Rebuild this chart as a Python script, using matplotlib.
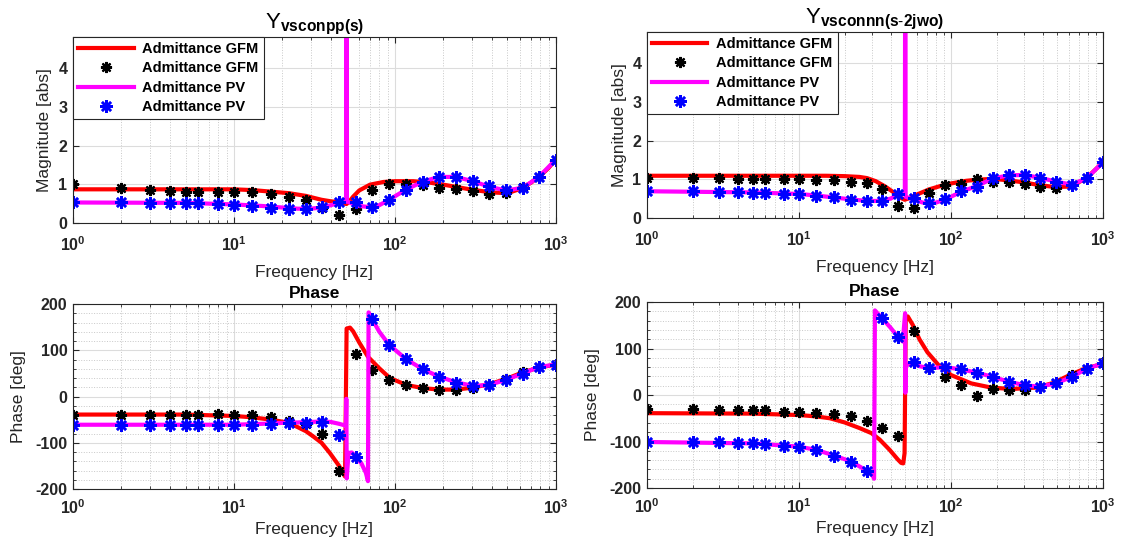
import matplotlib.pyplot as plt
from matplotlib.ticker import LogLocator, NullFormatter, MultipleLocator

plt.rcParams['font.family'] = ['Liberation Sans', 'DejaVu Sans']
plt.rcParams['mathtext.fontset'] = 'custom'
plt.rcParams['mathtext.rm'] = 'Liberation Sans'
plt.rcParams['mathtext.bf'] = 'Liberation Sans:bold'
plt.rcParams['mathtext.it'] = 'Liberation Sans:italic'

# measured frequencies (star markers), Hz
f_meas = [1, 2, 3, 4, 5, 6, 8, 10, 13, 17, 22, 28, 35, 45, 57, 72, 92, 117,
          149, 188, 239, 305, 383, 489, 623, 784, 1000]

# ---- Y_vsconpp(s) magnitude ----
mag_pp_gfm_pts = [1.02, 0.90, 0.85, 0.82, 0.80, 0.79, 0.80, 0.80, 0.79, 0.75, 0.67, 0.60, 0.40,
                  0.21, 0.36, 0.86, 1.02, 1.02, 0.99, 0.91, 0.88, 0.82, 0.76, 0.78, 0.93, 1.20, 1.62]
mag_pp_pv_pts = [0.53, 0.53, 0.52, 0.52, 0.52, 0.52, 0.48, 0.47, 0.43, 0.40, 0.37, 0.36, 0.41,
                 0.54, 0.53, 0.41, 0.60, 0.86, 1.06, 1.19, 1.19, 1.08, 0.95, 0.84, 0.91, 1.19, 1.62]
f_pp_gfm = [1, 5, 10, 13, 17, 22, 28, 35, 40, 45, 48, 50, 52, 55, 60, 70, 85, 100, 130, 160,
            200, 250, 300, 400, 500, 600, 700, 800, 900, 1000]
mag_pp_gfm = [0.87, 0.87, 0.87, 0.85, 0.81, 0.77, 0.70, 0.60, 0.56, 0.54, 0.51, 0.49, 0.55, 0.68,
              0.84, 0.99, 1.06, 1.08, 1.08, 1.05, 0.99, 0.92, 0.86, 0.79, 0.77, 0.88, 1.04, 1.22,
              1.42, 1.64]
f_pp_pv = [1, 5, 10, 15, 20, 25, 30, 35, 40, 45, 49.7, 50, 50.3, 55, 60, 70, 80, 92, 117, 149,
           188, 239, 305, 383, 489, 623, 784, 1000]
mag_pp_pv = [0.53, 0.52, 0.48, 0.44, 0.40, 0.37, 0.37, 0.40, 0.46, 0.52, 0.56, 8.0, 0.56, 0.49,
             0.44, 0.41, 0.46, 0.60, 0.86, 1.07, 1.19, 1.19, 1.08, 0.94, 0.84, 0.91, 1.19, 1.64]

# ---- Y_vsconnn(s-2jwo) magnitude ----
mag_nn_gfm_pts = [1.03, 1.03, 1.03, 1.01, 1.01, 1.01, 1.01, 1.01, 0.98, 0.97, 0.94, 0.90, 0.75,
                  0.32, 0.26, 0.64, 0.84, 0.87, 1.00, 0.94, 0.92, 0.88, 0.81, 0.77, 0.86, 1.03, 1.44]
mag_nn_pv_pts = [0.69, 0.69, 0.67, 0.66, 0.65, 0.64, 0.63, 0.62, 0.57, 0.53, 0.47, 0.43, 0.45,
                 0.63, 0.51, 0.38, 0.48, 0.69, 0.81, 1.03, 1.11, 1.11, 1.03, 0.94, 0.86, 1.03, 1.44]
f_nn_gfm = [1, 5, 10, 15, 20, 25, 28, 32, 37, 42, 46, 49.6, 53, 60, 72, 93, 126, 150, 190, 240,
            300, 380, 480, 610, 780, 1000]
mag_nn_gfm = [1.09, 1.09, 1.09, 1.09, 1.08, 1.06, 1.03, 0.95, 0.81, 0.66, 0.53, 0.47, 0.51, 0.61,
              0.74, 0.87, 0.96, 0.99, 1.01, 0.97, 0.92, 0.85, 0.80, 0.81, 1.03, 1.44]
f_nn_pv = [1, 5, 10, 13, 17, 22, 28, 35, 40, 45, 49.7, 50, 50.3, 57, 65, 72, 80, 92, 117, 149,
           188, 239, 305, 383, 489, 623, 784, 1000]
mag_nn_pv = [0.69, 0.66, 0.62, 0.58, 0.53, 0.48, 0.44, 0.44, 0.50, 0.60, 0.65, 8.0, 0.55, 0.47,
             0.40, 0.37, 0.40, 0.48, 0.68, 0.83, 1.02, 1.10, 1.11, 1.04, 0.94, 0.86, 1.03, 1.44]

# ---- phase, pp ----
ph_pp_gfm_pts = [-39, -41, -41, -40, -39, -39, -38, -39, -41, -45, -53, -59, -82, -161, 93, 57,
                 35, 24, 18, 14, 14, 18, 25, 38, 52, 64, 69]
ph_pp_pv_pts = [-62, -62, -62, -62, -62, -62, -62, -62, -61, -59, -57, -57, -55, -83, -130, 167,
                112, 81, 59, 43, 30, 23, 25, 35, 49, 64, 69]
f_ph_pp_gfm = [1, 5, 10, 13, 17, 22, 28, 31, 35, 39.4, 45, 49, 50.1, 52.6, 55, 60, 68, 80, 93,
               118, 150, 190, 240, 300, 380, 490, 620, 790, 1000]
ph_pp_gfm = [-39, -39, -42, -45, -50, -57, -75, -86, -100, -122, -150, -173, 147, 149, 141, 117,
             86, 61, 40, 25, 18, 15, 15, 19, 26, 38, 52, 63, 69]
f_ph_pp_pv = [1, 5, 10, 15, 20, 25, 30, 35, 40, 45, 49.6, 49.9, 50.2, 51.5, 54, 57, 62, 66, 68,
              68.6, 72, 80, 92, 117, 149, 188, 239, 305, 383, 489, 623, 784, 1000]
ph_pp_pv = [-61, -61, -61, -59, -57, -56, -55, -54, -55, -59, -63, -5, -177, -122, -121, -130,
            -145, -165, -183, 182, 168, 140, 112, 81, 59, 43, 31, 23, 25, 36, 50, 64, 69]

# ---- phase, nn ----
ph_nn_gfm_pts = [-30, -31, -32, -32, -32, -32, -36, -36, -38, -41, -46, -55, -71, -88, 137, 58,
                 39, 21, -2, 14, 11, 11, 18, 26, 44, 57, 68]
ph_nn_pv_pts = [-100, -101, -102, -103, -103, -106, -109, -112, -119, -131, -143, -164, 166, 124,
                71, 59, 61, 55, 48, 39, 29, 21, 18, 25, 39, 57, 68]
f_ph_nn_gfm = [1, 5, 10, 13, 16, 20, 25, 30, 34, 39.5, 44.8, 47, 48.5, 49.5, 50.4, 52, 56, 62,
               70, 83, 100, 136, 184, 250, 365, 470, 605, 760, 1000]
ph_nn_gfm = [-39, -40, -43, -46, -50, -59, -71, -82, -96, -118, -139, -146, -147, -125, 169, 169,
             151, 120, 92, 64, 43, 25, 16, 13, 16, 26, 43, 57, 67]
f_ph_nn_pv = [1, 5, 10, 13, 17, 22, 28, 30.5, 31.2, 31.6, 35, 40, 45, 48.2, 49.9, 50.1, 50.3,
              55, 62, 72, 92, 117, 149, 188, 239, 305, 383, 489, 623, 784, 1000]
ph_nn_pv = [-101, -104, -111, -118, -130, -143, -163, -173, -180, 182, 166, 145, 124, 115, 176, 5,
            62, 70, 62, 58, 60, 55, 48, 39, 29, 21, 18, 25, 39, 57, 68]

xticks = [1, 10, 100, 1000]
xtick_labels = [r'$\mathbf{10^{0}}$', r'$\mathbf{10^{1}}$', r'$\mathbf{10^{2}}$', r'$\mathbf{10^{3}}$']
mag_ticks = [0, 1, 2, 3, 4]
ph_ticks = [-200, -100, 0, 100, 200]

txt = '#262626'
star = (8, 2, 0)


def draw(ax, fl1, yl1, fp, yp1, fl2, yl2, yp2):
    ax.plot(fl1, yl1, color='red', lw=3, label='Admittance GFM')
    ax.plot(fp, yp1, ls='none', marker=star, ms=8, mew=1.6, color='black', label='Admittance GFM')
    ax.plot(fl2, yl2, color='magenta', lw=3, label='Admittance PV')
    ax.plot(fp, yp2, ls='none', marker=star, ms=9, mew=1.8, color='blue', label='Admittance PV')


def style(ax, yticks, ylim, phase, xpad):
    ax.set_xscale('log')
    ax.set_xlim(1, 1000)
    ax.set_ylim(*ylim)
    ax.set_xticks(xticks)
    ax.set_xticklabels(xtick_labels)
    ax.xaxis.set_minor_locator(LogLocator(base=10, subs=range(2, 10)))
    ax.xaxis.set_minor_formatter(NullFormatter())
    ax.set_yticks(yticks)
    ax.set_yticklabels([str(t) for t in yticks], fontweight='bold')
    ax.tick_params(which='both', direction='in', top=True, right=True, colors=txt,
                   labelsize=11.5)
    ax.tick_params(axis='y', pad=4)
    ax.tick_params(axis='x', pad=xpad)
    ax.tick_params(which='major', length=4.5, width=0.8)
    ax.tick_params(which='minor', length=2.5, width=0.6)
    ax.set_axisbelow(True)
    ax.grid(which='major', color='#dcdcdc', lw=0.8, ls='-')
    if phase:
        ax.yaxis.set_minor_locator(MultipleLocator(20))
        ax.grid(which='minor', color='#c8c8c8', lw=0.7, ls=':')
    else:
        ax.grid(which='minor', axis='x', color='#c8c8c8', lw=0.7, ls=':')
    for s in ax.spines.values():
        s.set_color(txt)
        s.set_linewidth(0.8)


fig = plt.figure(figsize=(11.23, 5.53), dpi=100)
ax1 = fig.add_axes([0.065, 0.5967, 0.430, 0.3363])
ax2 = fig.add_axes([0.5761, 0.6058, 0.4061, 0.3363])
ax3 = fig.add_axes([0.065, 0.1157, 0.430, 0.3345])
ax4 = fig.add_axes([0.5761, 0.1175, 0.4061, 0.3363])

draw(ax1, f_pp_gfm, mag_pp_gfm, f_meas, mag_pp_gfm_pts, f_pp_pv, mag_pp_pv, mag_pp_pv_pts)
draw(ax2, f_nn_gfm, mag_nn_gfm, f_meas, mag_nn_gfm_pts, f_nn_pv, mag_nn_pv, mag_nn_pv_pts)
draw(ax3, f_ph_pp_gfm, ph_pp_gfm, f_meas, ph_pp_gfm_pts, f_ph_pp_pv, ph_pp_pv, ph_pp_pv_pts)
draw(ax4, f_ph_nn_gfm, ph_nn_gfm, f_meas, ph_nn_gfm_pts, f_ph_nn_pv, ph_nn_pv, ph_nn_pv_pts)

for ax in (ax1, ax2):
    style(ax, mag_ticks, (0, 4.8), False, 9)
    ax.set_xlabel('Frequency [Hz]', fontsize=12.5, color=txt, labelpad=8)
    ax.set_ylabel('Magnitude [abs]', fontsize=12.5, color=txt)
    leg = ax.legend(loc='upper left', borderaxespad=0, fancybox=False, framealpha=1,
                    edgecolor='#262626', handlelength=3.8, handletextpad=0.6, borderpad=0.35,
                    labelspacing=0.36, prop={'weight': 'bold', 'size': 10.5})
    leg.get_frame().set_linewidth(0.8)
for ax in (ax3, ax4):
    style(ax, ph_ticks, (-200, 200), True, 7)
    ax.set_xlabel('Frequency [Hz]', fontsize=12.5, color=txt, labelpad=3)
    ax.set_ylabel('Phase [deg]', fontsize=12.5, color=txt)
    ax.set_title('Phase', fontsize=12.5, fontweight='bold', pad=4)

ax1.set_title(r'$\mathrm{Y}_{\mathbf{vsconpp(s)}}$', fontsize=16, pad=2)
ax2.set_title(r'$\mathrm{Y}_{\mathbf{vsconnn(s\text{-}2jwo)}}$', fontsize=16, pad=2)

ax1.yaxis.set_label_coords(-0.0435, 0.5)
ax2.yaxis.set_label_coords(-0.0445, 0.5)
ax3.yaxis.set_label_coords(-0.0973, 0.5)
ax4.yaxis.set_label_coords(-0.103, 0.5)

fig.savefig('out.png', dpi=100)
